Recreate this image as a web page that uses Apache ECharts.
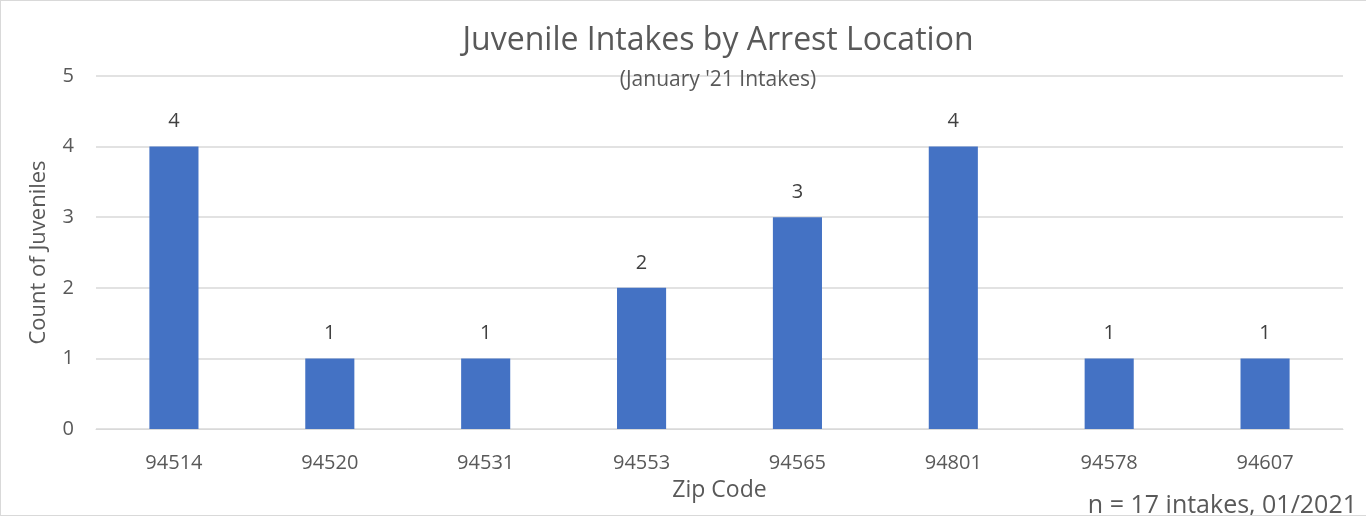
<!DOCTYPE html>
<html>
<head>
<meta charset="utf-8">
<script src="https://cdn.jsdelivr.net/npm/echarts@6/dist/echarts.min.js"></script>
<style>
    html, body { margin: 0; padding: 0; background: #fff; }
    #chart {
        width: 1366px;
        height: 516px;
        box-sizing: border-box;
        border: 1px solid #d9d9d9;
        border-right: none;
    }
</style>
</head>
<body>
<div id="chart"></div>
<script>
// zip codes and intake counts
const zipCodes = ['94514', '94520', '94531', '94553', '94565', '94801', '94578', '94607']
const counts = [4, 1, 1, 2, 3, 4, 1, 1]
const footNote = 'n = 17 intakes, 01/2021'

const font = '"Open Sans", "Liberation Sans", sans-serif'
const grey = '#595959'

const chart = echarts.init(document.getElementById('chart'))
const option = {
    animation: false,
    title: [
        {
            text: 'Juvenile Intakes by Arrest Location',
            left: 712,
            textAlign: 'center',
            top: 19,
            textStyle: { color: grey, fontSize: 32, fontWeight: 'normal', fontFamily: font }
        },
        {
            text: "(January '21 Intakes)",
            left: 712,
            textAlign: 'center',
            top: 64,
            textStyle: { color: grey, fontSize: 21, fontWeight: 'normal', fontFamily: font }
        },
        {
            text: footNote,
            right: 4,
            top: 487,
            textStyle: { color: grey, fontSize: 25, fontWeight: 'normal', fontFamily: font }
        }
    ],
    grid: {
        left: 95,
        right: 23,
        top: 75,
        bottom: 86
    },
    xAxis: {
        type: 'category',
        data: zipCodes,
        name: 'Zip Code',
        nameLocation: 'middle',
        nameGap: 50,
        nameTextStyle: { color: grey, fontSize: 23, fontFamily: font },
        axisLine: { show: true, lineStyle: { color: '#d9d9d9', width: 1 } },
        axisTick: { show: false },
        axisLabel: { color: grey, fontSize: 20, fontFamily: font, margin: 24 }
    },
    yAxis: {
        type: 'value',
        min: 0,
        max: 5,
        interval: 1,
        name: 'Count of Juveniles',
        nameLocation: 'middle',
        nameGap: 46,
        nameRotate: 90,
        nameTextStyle: { color: grey, fontSize: 22, fontFamily: font },
        axisLine: { show: false },
        axisTick: { show: false },
        axisLabel: { color: grey, fontSize: 20, fontFamily: font, margin: 22 },
        splitLine: { lineStyle: { color: '#d9d9d9', width: 1.5 } }
    },
    series: [
        {
            type: 'bar',
            data: counts,
            barWidth: '31.5%',
            itemStyle: { color: '#4472c4' },
            label: {
                show: true,
                position: 'top',
                distance: 15,
                color: '#404040',
                fontSize: 20,
                fontFamily: font
            }
        }
    ]
}
chart.setOption(option)
</script>
</body>
</html>
